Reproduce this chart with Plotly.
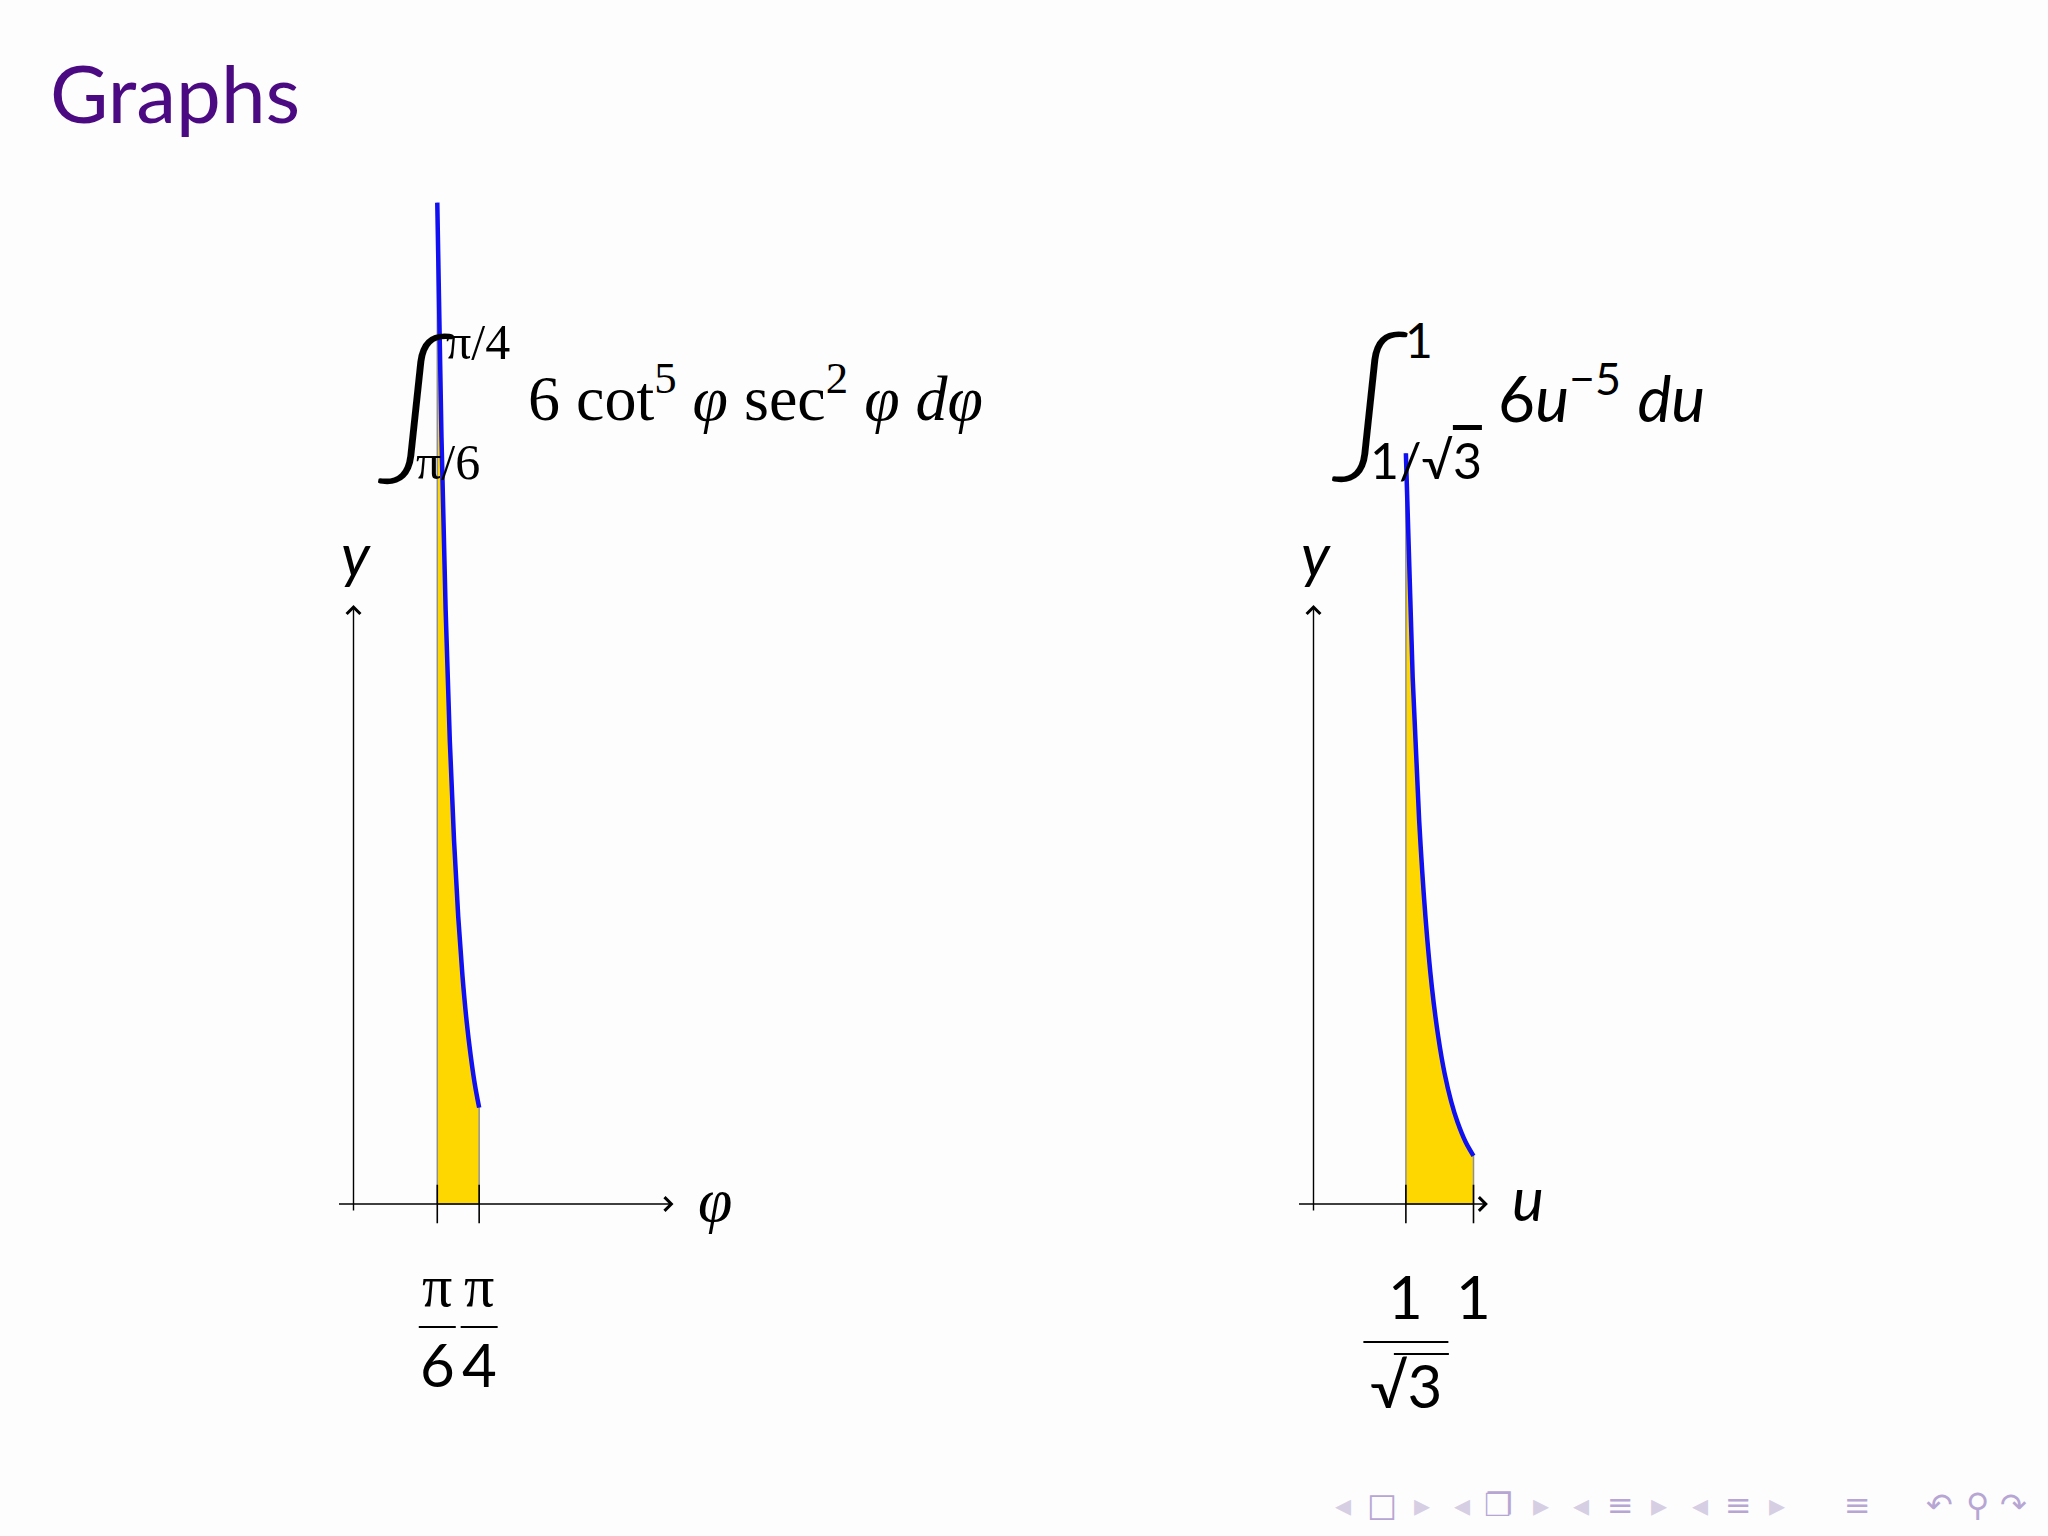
import plotly.graph_objects as go

# ---------------- data ----------------
phi_x = [0.5236, 0.5498, 0.5760, 0.6021, 0.6283, 0.6545, 0.6807, 0.7069, 0.7330, 0.7592, 0.7854]
phi_y = [124.7, 95.5, 73.9, 57.6, 45.3, 35.8, 28.5, 22.8, 18.4, 14.8, 12.0]
u_x = [0.5774, 0.62, 0.66, 0.70, 0.74, 0.78, 0.82, 0.86, 0.90, 0.95, 1.0]
u_y = [93.5, 65.5, 47.9, 35.7, 27.0, 20.8, 16.2, 12.8, 10.2, 7.75, 6.0]
phi_ticks = [0.5236, 0.7854]
phi_tick_num = ["π", "π"]
phi_tick_den = ["6", "4"]
u_ticks = [0.5774, 1.0]
u_tick_num = ["1", "1"]
u_tick_den = ["√3", ""]
left_axis_x = [-0.1, 2.0]
right_axis_x = [-0.1, 1.09]
axis_y = [-1.0, 74.6]

# ---------------- geometry ----------------
W, H = 2048, 1536
LX0, RX0, SX = 353.5, 1313.5, 160.0
Y0, SY = 1204.0, 8.03

def px(x):
    return x / W

def py(y):
    return 1 - y / H

SERIF = "Liberation Serif"
SANS = "Lato"
BLUE = "#1010f0"
GOLD = "#ffd700"
GREY = "#909090"

fig = go.Figure()

def add_graph(xs, ys, ticks, xaxis):
    fx = [xs[0]] + xs + [xs[-1], xs[0]]
    fy = [0] + ys + [0, 0]
    fig.add_trace(go.Scatter(x=fx, y=fy, xaxis=xaxis, yaxis="y", mode="lines",
                             fill="toself", fillcolor=GOLD,
                             line=dict(color=GREY, width=1.5), hoverinfo="skip",
                             showlegend=False))
    fig.add_trace(go.Scatter(x=xs, y=ys, xaxis=xaxis, yaxis="y", mode="lines",
                             line=dict(color=BLUE, width=4.5, shape="spline"),
                             showlegend=False))
    tx, ty = [], []
    for t in ticks:
        tx += [t, t, None]
        ty += [-2.4, 2.4, None]
    fig.add_trace(go.Scatter(x=tx, y=ty, xaxis=xaxis, yaxis="y", mode="lines",
                             line=dict(color="black", width=1.6), showlegend=False))

add_graph(phi_x, phi_y, phi_ticks, "x")
add_graph(u_x, u_y, u_ticks, "x2")

ann = []
shapes = []

def arrow(xref, x0, y0, x1, y1):
    ann.append(dict(xref=xref, yref="y", axref=xref, ayref="y", x=x1, y=y1, ax=x0, ay=y0,
                    text="", showarrow=True, arrowhead=4, arrowsize=1.9, arrowwidth=1.4,
                    arrowcolor="black", standoff=0, startstandoff=0))

for xref, ax_x in (("x", left_axis_x), ("x2", right_axis_x)):
    arrow(xref, ax_x[0], 0, ax_x[1], 0)
    arrow(xref, 0, axis_y[0], 0, axis_y[1])
    ann.append(dict(xref=xref, yref="paper", x=0, y=py(554), text="<i>y</i>",
                    showarrow=False, font=dict(family=SANS, size=60, color="black"),
                    xanchor="center", yanchor="middle", xshift=2))

ann.append(dict(xref="x", yref="y", x=left_axis_x[1], y=0, text="<i>φ</i>", showarrow=False,
                xanchor="left", yanchor="middle", xshift=22, yshift=4,
                font=dict(family=SERIF, size=62, color="black")))
ann.append(dict(xref="x2", yref="y", x=right_axis_x[1], y=0, text="<i>u</i>", showarrow=False,
                xanchor="left", yanchor="middle", xshift=22, yshift=6,
                font=dict(family=SANS, size=60, color="black")))

for t, n, d in zip(phi_ticks, phi_tick_num, phi_tick_den):
    ann.append(dict(xref="x", yref="paper", x=t, y=py(1286), text=n, showarrow=False,
                    xanchor="center", yanchor="middle", font=dict(family=SERIF, size=60, color="black")))
    ann.append(dict(xref="x", yref="paper", x=t, y=py(1364), text=d, showarrow=False,
                    xanchor="center", yanchor="middle", font=dict(family=SANS, size=60, color="black")))
    shapes.append(dict(type="line", xref="x", yref="paper", xsizemode="pixel", xanchor=t,
                       x0=-18.5, x1=18.5, y0=py(1327), y1=py(1327),
                       line=dict(color="black", width=2)))

for i, (t, n, d) in enumerate(zip(u_ticks, u_tick_num, u_tick_den)):
    ann.append(dict(xref="x2", yref="paper", x=t, y=py(1296), text=n, showarrow=False,
                    xanchor="center", yanchor="middle", font=dict(family=SANS, size=60, color="black")))
    if d:
        ann.append(dict(xref="x2", yref="paper", x=t, y=py(1385), text=d, showarrow=False,
                        xanchor="center", yanchor="middle", font=dict(family=SANS, size=60, color="black")))
        shapes.append(dict(type="line", xref="x2", yref="paper", xsizemode="pixel", xanchor=t,
                           x0=-42.5, x1=42.5, y0=py(1342), y1=py(1342),
                           line=dict(color="black", width=2)))
        shapes.append(dict(type="line", xref="x2", yref="paper", xsizemode="pixel", xanchor=t,
                           x0=-12, x1=43, y0=py(1354), y1=py(1354),
                           line=dict(color="black", width=2)))

def txt(x, y, s, size, family=SERIF, xa="left", weight="normal"):
    ann.append(dict(xref="paper", yref="paper", x=px(x), y=py(y), text=s, showarrow=False,
                    xanchor=xa, yanchor="middle",
                    font=dict(family=family, size=size, color="black", weight=weight)))

txt(416, 398, "∫", 152, family="Lato", xa="center", weight=300)
txt(478, 342, "π/4", 50, xa="center")
txt(448, 462, "π/6", 50, xa="center")
txt(526, 393, "6 cot<sup>5</sup> <i>φ</i> sec<sup>2</sup> <i>φ</i> <i>dφ</i>", 64)

txt(1370, 396, "∫", 152, family="Lato", xa="center", weight=300)
txt(1419, 340, "1", 48, family=SANS, xa="center")
txt(1426, 460, "1/√<span style='text-decoration:overline'>3</span>", 50, family=SANS, xa="center")
txt(1496, 393, "6<i>u</i><sup>−5</sup> <i>du</i>", 64, family=SANS)

ann.append(dict(xref="paper", yref="paper", x=px(48), y=py(92), text="Graphs", showarrow=False,
                xanchor="left", yanchor="middle", font=dict(family=SANS, size=80, color="#4b0a82")))

nav = [("◂", 1343, "#d6cfe4"), ("□", 1382, "#b7a6d4"), ("▸", 1422, "#d6cfe4"),
       ("◂", 1462, "#d6cfe4"), ("❐", 1498, "#b7a6d4"), ("▸", 1541, "#d6cfe4"),
       ("◂", 1581, "#d6cfe4"), ("≡", 1620, "#b7a6d4"), ("▸", 1659, "#d6cfe4"),
       ("◂", 1700, "#d6cfe4"), ("≡", 1738, "#b7a6d4"), ("▸", 1777, "#d6cfe4"),
       ("≡", 1857, "#b7a6d4"), ("↶", 1939, "#b7a6d4"), ("⚲", 1977, "#b7a6d4"),
       ("↷", 2013, "#b7a6d4")]
for ch, x, c in nav:
    ann.append(dict(xref="paper", yref="paper", x=px(x), y=py(1505), text=ch, showarrow=False,
                    xanchor="center", yanchor="middle", font=dict(family="DejaVu Sans", size=32, color=c)))

fig.update_layout(
    width=W, height=H, margin=dict(l=0, r=0, t=0, b=0),
    paper_bgcolor="#fdfdfd", plot_bgcolor="rgba(0,0,0,0)",
    showlegend=False,
    xaxis=dict(domain=[0, 1], range=[(0 - LX0) / SX, (W - LX0) / SX], visible=False, fixedrange=True),
    xaxis2=dict(domain=[0, 1], range=[(0 - RX0) / SX, (W - RX0) / SX], visible=False,
                overlaying="x", anchor="y", fixedrange=True),
    yaxis=dict(domain=[0, 1], range=[(Y0 - H) / SY, Y0 / SY], visible=False, fixedrange=True),
    annotations=ann, shapes=shapes,
)

fig.write_html("out.html", config={"displayModeBar": False},
               post_script="document.body.style.margin='0';")
